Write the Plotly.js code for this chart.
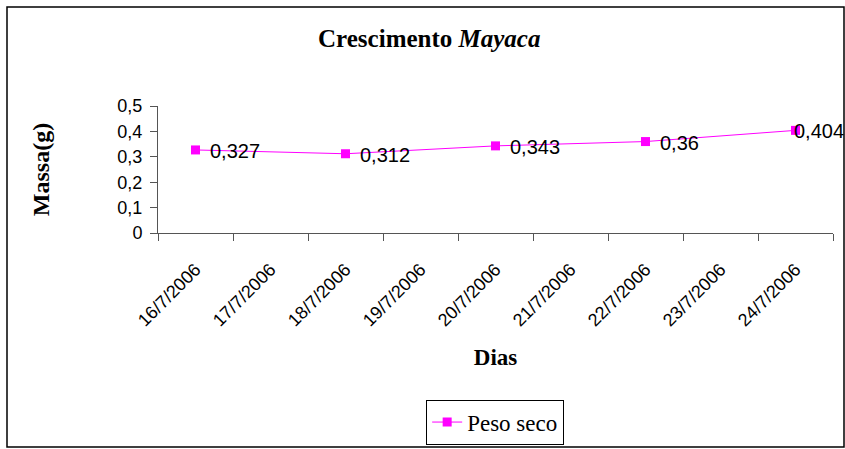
<!DOCTYPE html>
<html>
<head>
<meta charset="utf-8">
<script src="https://cdn.plot.ly/plotly-3.0.1.min.js"></script>
<style>
  html, body { margin: 0; padding: 0; background: #ffffff; }
  #chart { width: 845px; height: 449px; }
</style>
</head>
<body>
<div id="chart"></div>
<script>
// ---- data ----
const allDays = ['16/7/2006', '17/7/2006', '18/7/2006', '19/7/2006', '20/7/2006',
                 '21/7/2006', '22/7/2006', '23/7/2006', '24/7/2006'];
const sampleDays = ['16/7/2006', '18/7/2006', '20/7/2006', '22/7/2006', '24/7/2006'];
const pesoSeco = [0.327, 0.312, 0.343, 0.36, 0.404];
const seriesName = 'Peso seco';
const yTicks = [0, 0.1, 0.2, 0.3, 0.4, 0.5];

const fmt = v => String(v).replace('.', ',');
const MAGENTA = '#FF00FF';
const SANS = '"Liberation Sans", Arial, sans-serif';
const SERIF = '"Liberation Serif", "Times New Roman", serif';

const trace = {
  type: 'scatter',
  mode: 'lines+markers',
  name: seriesName,
  x: sampleDays,
  y: pesoSeco,
  line: { color: MAGENTA, width: 1 },
  marker: { symbol: 'square', size: 9, color: MAGENTA },
  cliponaxis: false,
  hoverinfo: 'x+y'
};

const labelShift = sampleDays.map((d, i) => i === sampleDays.length - 1 ? -4 : 12);
const annotations = sampleDays.map((d, i) => ({
  x: d, y: pesoSeco[i], xref: 'x', yref: 'y',
  text: fmt(pesoSeco[i]), showarrow: false,
  xanchor: 'left', yanchor: 'middle', xshift: labelShift[i], yshift: -1,
  font: { family: SANS, size: 20, color: '#000000' }
}));

const layout = {
  width: 845, height: 449,
  margin: { l: 158, r: 12, t: 106, b: 216 },
  paper_bgcolor: '#ffffff',
  plot_bgcolor: '#ffffff',
  separators: ',.',
  showlegend: true,
  title: {
    text: '<b>Crescimento <i>Mayaca</i></b>',
    font: { family: SERIF, size: 25, color: '#000000' },
    x: 0.508, xanchor: 'center', y: 0.915, yanchor: 'middle'
  },
  xaxis: {
    type: 'category',
    categoryorder: 'array',
    categoryarray: allDays,
    tickvals: allDays,
    range: [-0.5, allDays.length - 0.5],
    tickson: 'boundaries',
    ticks: 'outside', ticklen: 7, tickcolor: '#555555', tickwidth: 1,
    showline: true, linecolor: '#555555', linewidth: 1,
    showgrid: false, zeroline: false,
    tickangle: -45,
    ticklabelstandoff: 18,
    tickfont: { family: SANS, size: 18, color: '#000000' },
    automargin: false,
    title: { text: '<b>Dias</b>', font: { family: SERIF, size: 23, color: '#000000' }, standoff: 19 }
  },
  yaxis: {
    range: [0, 0.5],
    tickvals: yTicks,
    ticks: 'outside', ticklen: 7, tickcolor: '#555555', tickwidth: 1,
    showline: true, linecolor: '#555555', linewidth: 1,
    showgrid: false, zeroline: false,
    ticklabelstandoff: 4,
    tickfont: { family: SANS, size: 18, color: '#000000' },
    automargin: false,
    title: { text: '<b>Massa(g)</b>', font: { family: SERIF, size: 24, color: '#000000' }, standoff: 60 }
  },
  legend: {
    xref: 'container', yref: 'container',
    x: 0.586, xanchor: 'center', y: 0.11, yanchor: 'top',
    orientation: 'h',
    bordercolor: '#000000', borderwidth: 1, bgcolor: '#ffffff',
    font: { family: SERIF, size: 23, color: '#000000' }
  },
  annotations: annotations,
  shapes: [{
    type: 'rect', xref: 'paper', yref: 'paper',
    x0: -0.2237, x1: 1.0163, y0: -1.685, y1: 1.7795,
    line: { color: '#000000', width: 1.5 }, fillcolor: 'rgba(0,0,0,0)', layer: 'below'
  }]
};

Plotly.newPlot('chart', [trace], layout, { displayModeBar: false, staticPlot: true });
</script>
</body>
</html>
